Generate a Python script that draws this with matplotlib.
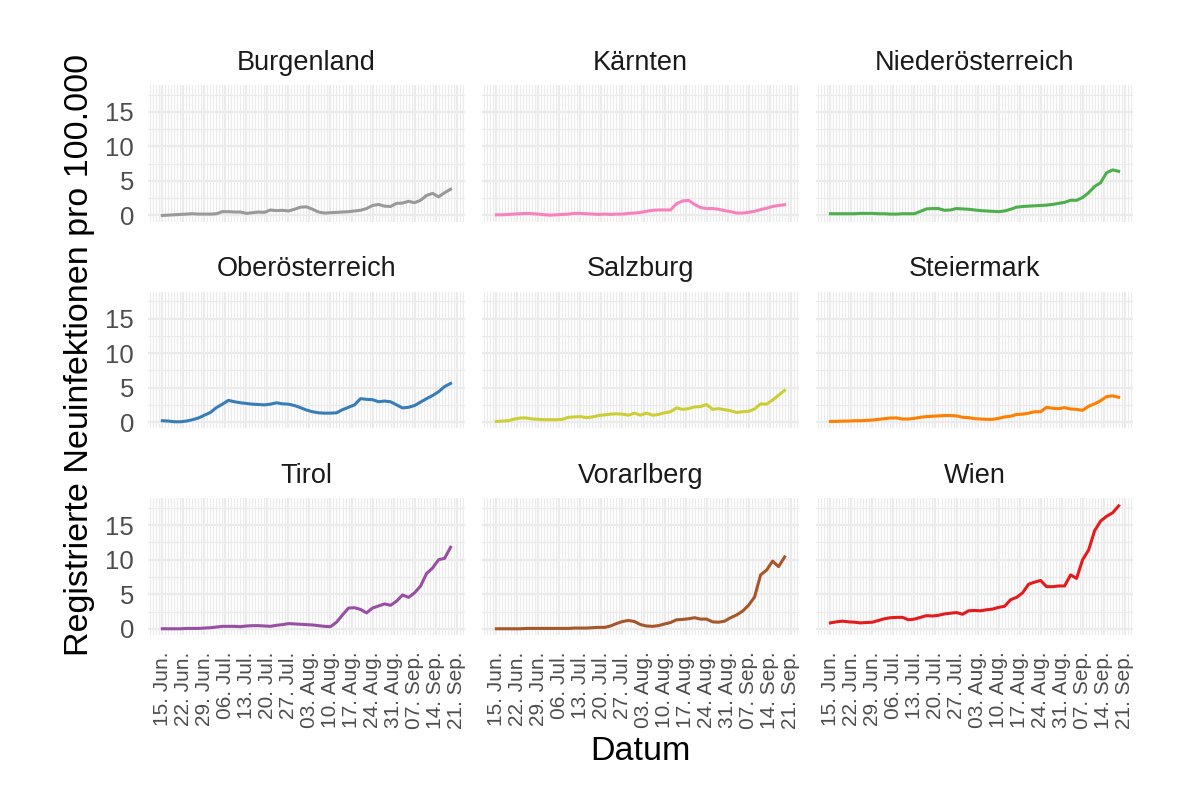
import numpy as np
import matplotlib.pyplot as plt
import matplotlib.dates as mdates

plt.rcParams['font.family'] = ['Liberation Sans', 'DejaVu Sans']

# 7-Tage-Schnitt, jeder zweite Tag ab 15. Juni 2020
dates = np.datetime64('2020-06-15') + np.arange(0, 97, 2)

regions = ['Burgenland', 'Kärnten', 'Niederösterreich',
           'Oberösterreich', 'Salzburg', 'Steiermark',
           'Tirol', 'Vorarlberg', 'Wien']
colors = ['#999999', '#F781BF', '#4DAF4A',
          '#377EB8', '#CDCD36', '#FF7F00',
          '#984EA3', '#A65628', '#E41A1C']

burgenland = [0.0, 0.05, 0.1, 0.15, 0.2, 0.25, 0.2, 0.2, 0.2, 0.25,
              0.55, 0.55, 0.5, 0.5, 0.3, 0.4, 0.5, 0.45, 0.8, 0.7,
              0.75, 0.65, 0.9, 1.2, 1.25, 0.9, 0.5, 0.35, 0.4, 0.45,
              0.5, 0.55, 0.65, 0.75, 1.0, 1.45, 1.6, 1.35, 1.3, 1.75,
              1.8, 2.05, 1.85, 2.2, 2.9, 3.2, 2.7, 3.3, 3.8]
kaernten = [0.1, 0.1, 0.15, 0.2, 0.25, 0.3, 0.25, 0.2, 0.1, 0.05,
            0.1, 0.15, 0.2, 0.3, 0.3, 0.25, 0.2, 0.15, 0.2, 0.15,
            0.2, 0.2, 0.3, 0.35, 0.45, 0.6, 0.75, 0.8, 0.8, 0.8,
            1.7, 2.1, 2.2, 1.6, 1.15, 1.0, 1.0, 0.9, 0.7, 0.55,
            0.35, 0.35, 0.45, 0.6, 0.85, 1.05, 1.3, 1.45, 1.55]
noe = [0.25, 0.25, 0.25, 0.25, 0.25, 0.3, 0.3, 0.3, 0.25, 0.25,
       0.2, 0.2, 0.25, 0.25, 0.25, 0.6, 0.95, 1.0, 1.0, 0.75,
       0.8, 1.0, 0.95, 0.9, 0.8, 0.7, 0.65, 0.6, 0.55, 0.65,
       0.9, 1.2, 1.3, 1.35, 1.4, 1.45, 1.5, 1.6, 1.75, 1.9,
       2.2, 2.2, 2.6, 3.3, 4.2, 4.75, 6.2, 6.6, 6.4]
ooe = [0.2, 0.15, 0.05, 0.05, 0.15, 0.35, 0.6, 1.0, 1.4, 2.1,
       2.6, 3.15, 2.95, 2.8, 2.7, 2.6, 2.55, 2.5, 2.6, 2.8,
       2.65, 2.6, 2.4, 2.1, 1.75, 1.5, 1.35, 1.3, 1.3, 1.35,
       1.8, 2.15, 2.5, 3.4, 3.3, 3.25, 2.95, 3.05, 2.95, 2.5,
       2.05, 2.15, 2.4, 2.9, 3.4, 3.85, 4.4, 5.15, 5.6]
salzburg = [0.1, 0.15, 0.2, 0.45, 0.6, 0.6, 0.45, 0.4, 0.35, 0.35,
            0.35, 0.4, 0.7, 0.75, 0.8, 0.65, 0.75, 0.95, 1.05, 1.15,
            1.2, 1.15, 1.0, 1.3, 1.0, 1.3, 1.0, 1.1, 1.35, 1.5,
            2.05, 1.85, 1.95, 2.2, 2.25, 2.55, 1.85, 1.95, 1.8, 1.65,
            1.4, 1.5, 1.55, 1.9, 2.65, 2.6, 3.2, 3.9, 4.6]
steiermark = [0.1, 0.1, 0.15, 0.15, 0.2, 0.2, 0.25, 0.3, 0.4, 0.5,
              0.6, 0.6, 0.45, 0.45, 0.55, 0.7, 0.8, 0.85, 0.9, 0.95,
              0.95, 0.9, 0.7, 0.65, 0.5, 0.45, 0.4, 0.4, 0.55, 0.75,
              0.85, 1.1, 1.15, 1.3, 1.5, 1.5, 2.15, 2.0, 1.95, 2.1,
              1.9, 1.85, 1.7, 2.3, 2.65, 3.1, 3.7, 3.8, 3.6]
tirol = [0.0, 0.0, 0.0, 0.0, 0.05, 0.05, 0.05, 0.1, 0.15, 0.25,
         0.35, 0.35, 0.35, 0.3, 0.4, 0.45, 0.45, 0.4, 0.35, 0.5,
         0.6, 0.75, 0.7, 0.65, 0.6, 0.55, 0.45, 0.35, 0.3, 0.95,
         2.0, 3.0, 3.05, 2.8, 2.3, 3.0, 3.3, 3.6, 3.4, 4.0,
         4.9, 4.55, 5.2, 6.2, 8.0, 8.8, 10.0, 10.2, 11.8]
vorarlberg = [0.0, 0.0, 0.0, 0.0, 0.0, 0.05, 0.05, 0.05, 0.05, 0.05,
              0.05, 0.05, 0.05, 0.1, 0.1, 0.1, 0.15, 0.2, 0.2, 0.4,
              0.75, 1.05, 1.2, 1.05, 0.6, 0.4, 0.35, 0.45, 0.7, 0.9,
              1.3, 1.35, 1.45, 1.6, 1.4, 1.4, 1.0, 0.95, 1.1, 1.6,
              2.0, 2.55, 3.4, 4.6, 7.8, 8.5, 9.8, 9.0, 10.4]
wien = [0.85, 1.0, 1.1, 1.0, 0.95, 0.85, 0.9, 0.95, 1.2, 1.45,
        1.6, 1.65, 1.65, 1.3, 1.4, 1.65, 1.9, 1.85, 1.95, 2.15,
        2.25, 2.35, 2.1, 2.6, 2.65, 2.6, 2.75, 2.85, 3.1, 3.25,
        4.2, 4.55, 5.2, 6.45, 6.75, 7.0, 6.1, 6.1, 6.2, 6.2,
        7.8, 7.3, 10.0, 11.4, 14.2, 15.6, 16.3, 16.8, 17.8]

series = [burgenland, kaernten, noe, ooe, salzburg, steiermark,
          tirol, vorarlberg, wien]

tick_dates = np.datetime64('2020-06-15') + np.arange(0, 99, 7)
tick_labels = ['15. Jun.', '22. Jun.', '29. Jun.', '06. Jul.', '13. Jul.',
               '20. Jul.', '27. Jul.', '03. Aug.', '10. Aug.', '17. Aug.',
               '24. Aug.', '31. Aug.', '07. Sep.', '14. Sep.', '21. Sep.']

fig, axes = plt.subplots(3, 3, figsize=(12, 7.96), dpi=100,
                         sharex=True, sharey=True)
fig.subplots_adjust(left=0.1233, right=0.9442, top=0.8932, bottom=0.2023,
                    wspace=0.0536, hspace=0.512)

x0 = mdates.date2num(dates[0])
x1 = mdates.date2num(dates[-1])
pad = (x1 - x0) * 0.05

for ax, name, vals, c in zip(axes.flat, regions, series, colors):
    ax.plot(dates, vals, color=c, lw=2.2, solid_joinstyle='round')
    ax.set_title(name, fontsize=19.5, color='#1A1A1A', pad=11)
    ax.set_xlim(x0 - pad, x1 + pad)
    ax.set_ylim(-0.9, 18.9)
    ax.set_yticks([0, 5, 10, 15])
    ax.set_yticks([2.5, 7.5, 12.5, 17.5], minor=True)
    ax.set_xticks(tick_dates, tick_labels)
    ax.xaxis.set_minor_locator(mdates.DayLocator())
    ax.grid(which='major', color='#EBEBEB', lw=1.6)
    ax.grid(which='minor', color='#EBEBEB', lw=0.85)
    ax.set_axisbelow(True)
    for s in ax.spines.values():
        s.set_visible(False)
    ax.tick_params(which='both', length=0)
    ax.tick_params(axis='y', labelsize=18.5, labelcolor='#4D4D4D', pad=10)
    ax.tick_params(axis='x', labelsize=15, labelcolor='#4D4D4D', pad=12,
                   labelrotation=90)

fig.text(80 / 1200, 1 - 355 / 796, 'Registrierte Neuinfektionen pro 100.000',
         rotation=90, ha='center', va='center', fontsize=24.5)
fig.text(0.5338, 1 - 752 / 796, 'Datum', ha='center', va='center',
         fontsize=24.5)

fig.savefig('out.png', dpi=100, facecolor='white')
